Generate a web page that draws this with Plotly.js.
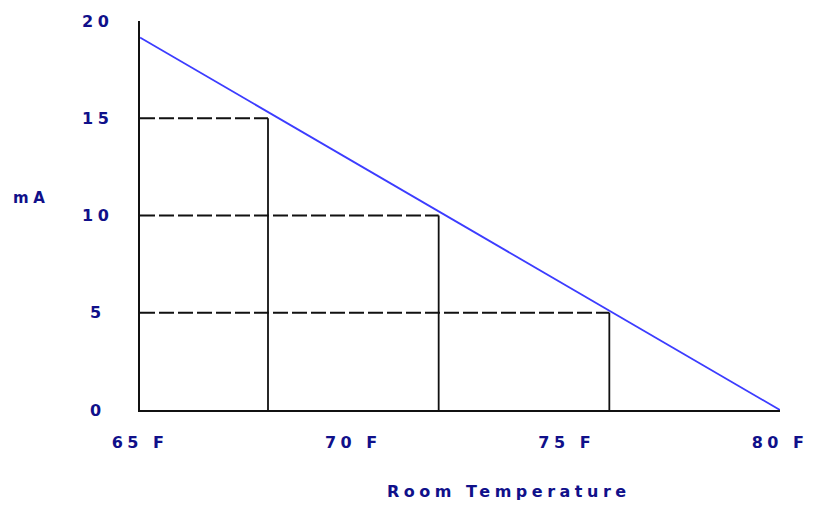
<!DOCTYPE html>
<html>
<head>
<meta charset="utf-8">
<script src="https://cdn.plot.ly/plotly-3.0.1.min.js"></script>
<style>
  html, body { margin: 0; padding: 0; background: #fff; }
  #chart { width: 814px; height: 506px; }
  .xtick text, .annotation-text { letter-spacing: 4.5px; }
</style>
</head>
<body>
<div id="chart"></div>
<script>
// Data
const lineX = [65, 80];
const lineY = [19.15, 0];
const dropX = [68, 72, 76];
const dropY = [15, 10, 5];
const xTickVals = [65, 70, 75, 80];
const xTickText = ['65 F', '70 F', '75 F', '80 F'];
const yTickVals = [0, 5, 10, 15, 20];
const yTickText = ['0', '5', '10', '15', '20'];
const xTitle = 'Room Temperature';
const yTitle = 'mA';

const navy = '#10108a';
const fontFam = '"DejaVu Sans", Verdana, sans-serif';

const traces = [];
for (let i = 0; i < dropX.length; i++) {
  traces.push({
    x: [xTickVals[0], dropX[i]], y: [dropY[i], dropY[i]],
    mode: 'lines', hoverinfo: 'skip', showlegend: false,
    line: { color: '#111', width: 1.8, dash: '15px,4px' }
  });
  traces.push({
    x: [dropX[i], dropX[i]], y: [-0.1, dropY[i]],
    mode: 'lines', hoverinfo: 'skip', showlegend: false,
    line: { color: '#111', width: 1.8 }
  });
}
traces.push({
  x: lineX, y: lineY, mode: 'lines', showlegend: false,
  line: { color: 'rgb(60,60,255)', width: 1.8 }
});

const annotations = yTickVals.map((v, i) => ({
  x: -0.066, xref: 'paper', y: v, yref: 'y', text: '<b>' + yTickText[i] + '</b>',
  showarrow: false, xanchor: 'center', yanchor: 'middle',
  font: { family: fontFam, size: 16, color: navy }
}));
annotations.push({
  x: -0.17, xref: 'paper', y: 10.9, yref: 'y', text: '<b>' + yTitle + '</b>',
  showarrow: false, xanchor: 'center', yanchor: 'middle',
  font: { family: fontFam, size: 15, color: navy }
});
annotations.push({
  x: 0.577, xref: 'paper', y: -0.21, yref: 'paper', text: '<b>' + xTitle + '</b>',
  showarrow: false, xanchor: 'center', yanchor: 'middle',
  font: { family: fontFam, size: 16, color: navy }
});

const layout = {
  width: 814, height: 506,
  margin: { l: 140, r: 34, t: 21, b: 96 },
  paper_bgcolor: '#fff', plot_bgcolor: '#fff',
  xaxis: {
    range: [65, 80], showgrid: false, zeroline: false,
    showline: true, linecolor: '#111', linewidth: 1.8,
    tickvals: xTickVals, ticktext: xTickText.map(t => '<b>' + t + '</b>'),
    ticks: '', ticklabelstandoff: 17, automargin: false,
    tickfont: { family: fontFam, size: 16, color: navy }
  },
  yaxis: {
    range: [0, 20], showgrid: false, zeroline: false,
    showline: true, linecolor: '#111', linewidth: 1.8,
    showticklabels: false, ticks: '', automargin: false
  },
  annotations: annotations
};

Plotly.newPlot('chart', traces, layout, { displayModeBar: false, staticPlot: true });
</script>
</body>
</html>
